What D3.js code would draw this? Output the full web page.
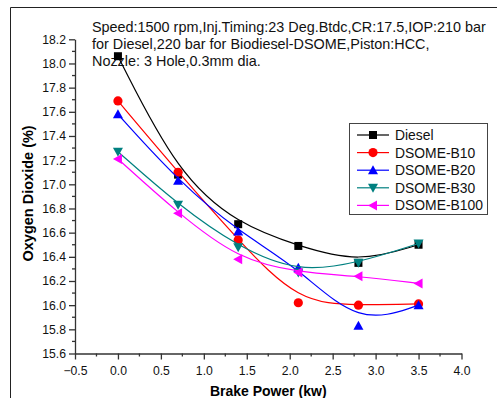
<!DOCTYPE html>
<html>
<head>
<meta charset="utf-8">
<script src="https://cdn.jsdelivr.net/npm/d3@7"></script>
<style>
  body { margin: 0; background: #fff; }
  svg { display: block; font-family: "Liberation Sans", Arial, sans-serif; }
</style>
</head>
<body>
<div id="chart"></div>
<script>
// brake power (kw)
const power = [0, 0.7, 1.4, 2.1, 2.8, 3.5];

// oxygen (%) per fuel
const diesel = [18.06, 17.08, 16.67, 16.49, 16.35, 16.50];
const b10 = [17.69, 17.10, 16.54, 16.02, 16.00, 16.01];
const b20 = [17.58, 17.03, 16.61, 16.31, 15.83, 16.00];
const b30 = [17.27, 16.83, 16.48, 16.27, 16.35, 16.51];
const b100 = [17.21, 16.76, 16.38, 16.27, 16.24, 16.18];

const seriesNames = ["Diesel", "DSOME-B10", "DSOME-B20", "DSOME-B30", "DSOME-B100"];
const seriesColors = ["#000000", "#ff0000", "#0000ff", "#008080", "#ff00ff"];
const seriesShapes = ["square", "circle", "up", "down", "left"];

const xTicks = [-0.5, 0, 0.5, 1, 1.5, 2, 2.5, 3, 3.5, 4];
const yTicks = [15.6, 15.8, 16.0, 16.2, 16.4, 16.6, 16.8, 17.0, 17.2, 17.4, 17.6, 17.8, 18.0, 18.2];

const noteLines = [
    "Speed:1500 rpm,Inj.Timing:23 Deg.Btdc,CR:17.5,IOP:210 bar",
    "for Diesel,220 bar for Biodiesel-DSOME,Piston:HCC,",
    "Nozzle: 3 Hole,0.3mm dia."
];

const W = 497, H = 398;
const plot = {left: 75, right: 461.5, top: 39.3, bottom: 353.5};

const svg = d3.select("#chart").append("svg")
    .attr("width", W)
    .attr("height", H);

// outer frame (cut by the image edge)
svg.append("path")
    .attr("d", `M10.5,${H + 5} L10.5,7.5 L${W + 5},7.5`)
    .attr("fill", "none")
    .attr("stroke", "#222")
    .attr("stroke-width", 1);

const x = d3.scaleLinear().domain([-0.5, 4]).range([plot.left, plot.right]);
const y = d3.scaleLinear().domain([15.6, 18.2]).range([plot.bottom, plot.top]);

// minor ticks
const xMinor = d3.range(-0.25, 4, 0.5);
const yMinor = d3.range(15.7, 18.2, 0.2);

const xAxis = svg.append("g")
    .attr("transform", `translate(0,${plot.bottom})`)
    .call(d3.axisBottom(x).tickValues(xTicks).tickSize(6).tickSizeOuter(0)
        .tickFormat(d3.format(".1f")));
xAxis.append("g").selectAll("line")
    .data(xMinor)
    .join("line")
    .attr("x1", d => x(d)).attr("x2", d => x(d))
    .attr("y1", 0).attr("y2", 3);

const yAxis = svg.append("g")
    .attr("transform", `translate(${plot.left},0)`)
    .call(d3.axisLeft(y).tickValues(yTicks).tickSize(6).tickSizeOuter(0)
        .tickFormat(d3.format(".1f")));
yAxis.append("g").selectAll("line")
    .data(yMinor)
    .join("line")
    .attr("y1", d => y(d)).attr("y2", d => y(d))
    .attr("x1", 0).attr("x2", -3);

svg.selectAll(".tick text")
    .style("font-size", "12.2px")
    .attr("fill", "#111");
xAxis.selectAll(".tick text").attr("dy", "1.05em");
yAxis.selectAll(".tick text").attr("x", -9);
svg.selectAll(".domain, .tick line, g line").attr("stroke", "#333").attr("stroke-width", 1.3);

// axis titles
svg.append("text")
    .attr("x", (plot.left + plot.right) / 2)
    .attr("y", 396)
    .attr("text-anchor", "middle")
    .style("font-size", "14px")
    .style("font-weight", "bold")
    .text("Brake Power (kw)");

svg.append("text")
    .attr("transform", `translate(33,${(plot.top + plot.bottom) / 2 - 3}) rotate(-90)`)
    .attr("text-anchor", "middle")
    .style("font-size", "14.5px")
    .style("font-weight", "bold")
    .text("Oxygen Dioxide (%)");

// annotation
svg.append("g").selectAll("text")
    .data(noteLines)
    .join("text")
    .attr("x", 92)
    .attr("y", (d, i) => 31.5 + i * 17.3)
    .style("font-size", "14.4px")
    .attr("fill", "#111")
    .text(d => d);

function marker(g, shape, color) {
    if (shape === "square") {
        g.append("rect").attr("x", -4).attr("y", -4).attr("width", 8).attr("height", 8).attr("fill", color);
    } else if (shape === "circle") {
        g.append("circle").attr("r", 4.6).attr("fill", color);
    } else {
        let pts = [[0, -5], [5, 4], [-5, 4]];
        let rot = {up: 0, down: 180, left: -90}[shape];
        g.append("polygon").attr("points", pts.map(p => p.join(",")).join(" "))
            .attr("transform", `rotate(${rot})`)
            .attr("fill", color);
    }
}

const allSeries = [diesel, b10, b20, b30, b100];

const line = d3.line()
    .x(d => x(d[0]))
    .y(d => y(d[1]))
    .curve(d3.curveBasis);

allSeries.forEach(function(vals, i) {
    let pts = power.map((p, j) => [p, vals[j]]);
    svg.append("path")
        .datum(pts)
        .attr("d", line)
        .attr("fill", "none")
        .attr("stroke", seriesColors[i])
        .attr("stroke-width", 1.2);
    pts.forEach(function(p) {
        let g = svg.append("g").attr("transform", `translate(${x(p[0])},${y(p[1])})`);
        marker(g, seriesShapes[i], seriesColors[i]);
    });
});

// legend
const legend = svg.append("g").attr("transform", "translate(349,123)");
legend.append("rect")
    .attr("x", 0.5).attr("y", 0.5)
    .attr("width", 138).attr("height", 91)
    .attr("fill", "#fff")
    .attr("stroke", "#444")
    .attr("stroke-width", 1);

seriesNames.forEach(function(name, i) {
    let row = legend.append("g").attr("transform", `translate(0,${12 + i * 17.6})`);
    row.append("line")
        .attr("x1", 8).attr("x2", 40)
        .attr("stroke", seriesColors[i])
        .attr("stroke-width", 1.2);
    marker(row.append("g").attr("transform", "translate(24,0)"), seriesShapes[i], seriesColors[i]);
    row.append("text")
        .attr("x", 46)
        .attr("dy", "0.36em")
        .style("font-size", "13.9px")
        .attr("fill", "#111")
        .text(name);
});
</script>
</body>
</html>
